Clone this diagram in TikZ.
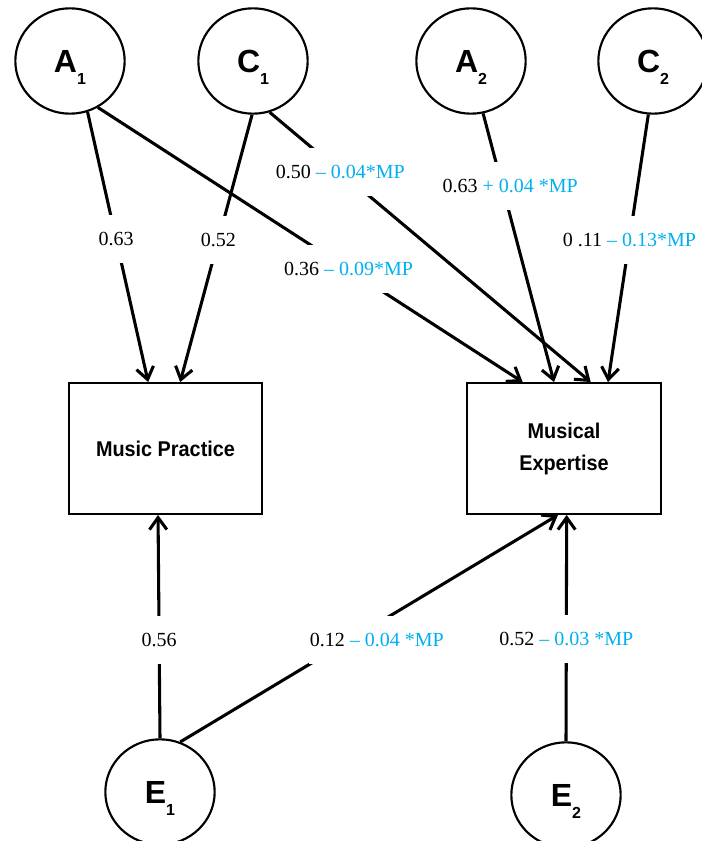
\documentclass[tikz,border=0pt]{standalone}
\usepackage{fontspec}
\setmainfont{Liberation Serif}
\newfontfamily\latentfont{Liberation Sans}
\newfontfamily\narrowfont[FakeStretch=0.93]{Liberation Sans}
\usetikzlibrary{arrows.meta,shapes.geometric}
\definecolor{mpblue}{RGB}{0,176,240}
\newcommand{\lat}[2]{#1\smash{\raisebox{-9.5pt}{\fontsize{12}{12}\selectfont #2}}}
\newcommand{\mpterm}[1]{\textcolor{mpblue}{#1}}
\begin{document}
\begin{tikzpicture}[x=0.75pt,y=-0.75pt,
    latent/.style={draw,ellipse,line width=1.6pt,minimum width=82pt,minimum height=79pt,
      font=\latentfont\bfseries\fontsize{24}{24}\selectfont},
    observed/.style={draw,line width=1.7pt,minimum width=145pt,minimum height=98pt,
      align=center,font=\narrowfont\bfseries\fontsize{16}{24}\selectfont},
    effect/.style={line width=2.3pt,-{Straight Barb[length=9pt,width=13pt]}},
    coef/.style={fill=white,inner xsep=1pt,minimum height=36pt,
      font=\fontsize{15}{18}\selectfont}]
  \useasboundingbox (0,0) rectangle (701,841);
  % latent factors
  \node[latent] (A1) at (70,61) {\lat{A}{1}};
  \node[latent] (C1) at (253,61) {\lat{C}{1}};
  \node[latent] (A2) at (471,61) {\lat{A}{2}};
  \node[latent] (C2) at (653,61) {\lat{C}{2}};
  % observed traits
  \node[observed] (mp) at (165.5,448.5) {Music Practice};
  \node[observed] (me) at (564,448.5) {Musical\\Expertise};
  \node[latent] (E1) at (160,792) {\lat{E}{1}};
  \node[latent] (E2) at (566,795) {\lat{E}{2}};
  % paths
  \draw[effect] (A1.289) -- node[coef,pos=.47] {0.63} ([xshift=-13pt]mp.north);
  \draw[effect] (C1.269) -- node[coef,pos=.47] {0.52} ([xshift=11pt]mp.north);
  \draw[effect] (A1.301) -- node[coef,pos=.59] {0.36 \mpterm{-- 0.09*MP}} ([xshift=-31pt]me.north);
  \draw[effect] (C1.288) -- node[coef,pos=.22] {0.50 \mpterm{-- 0.04*MP}} ([xshift=20pt]me.north);
  \draw[effect] (A2.283) -- node[coef,pos=.27,xshift=6pt] {0.63 \mpterm{+ 0.04 *MP}} ([xshift=-7.5pt]me.north);
  \draw[effect] (C2.265) -- node[coef,pos=.47] {0 .11 \mpterm{-- 0.13*MP}} ([xshift=33pt]me.north);
  \draw[effect] (E1.90) -- node[coef,pos=.44] {0.56} ([xshift=-5.6pt]mp.south);
  \draw[effect] (E1.68) -- node[coef,pos=.45,xshift=20pt] {0.12 \mpterm{-- 0.04 *MP}} ([xshift=-4.5pt]me.south);
  \draw[effect] (E2.90) -- node[coef,pos=.45] {0.52 \mpterm{-- 0.03 *MP}} ([xshift=2pt]me.south);
\end{tikzpicture}
\end{document}
